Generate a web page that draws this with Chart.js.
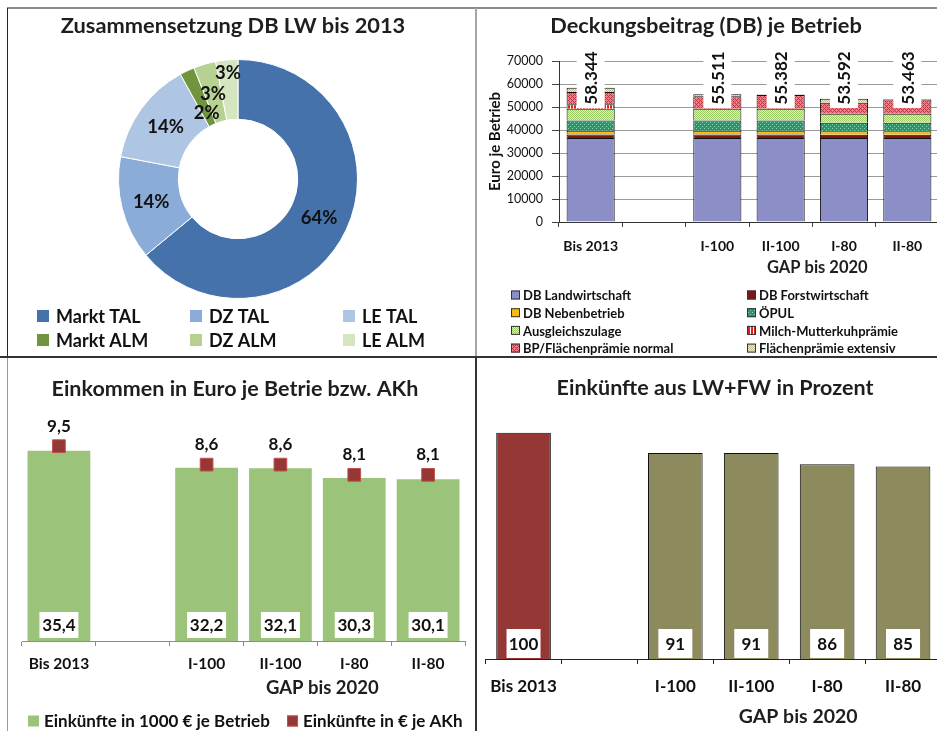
<!DOCTYPE html>
<html>
<head>
<meta charset="utf-8">
<script src="https://cdn.jsdelivr.net/npm/chart.js@4.4.1/dist/chart.umd.min.js"></script>
<style>
  body { margin: 0; background: #fff; width: 937px; height: 731px; position: relative; overflow: hidden; }
  canvas { position: absolute; }
  .ln { position: absolute; }
</style>
</head>
<body>
<div class="ln" style="left:7px;top:7px;width:930px;height:2px;background:#8c8c8c"></div>
<div class="ln" style="left:7px;top:8px;width:1px;height:349px;background:#262626"></div>
<div class="ln" style="left:7px;top:357px;width:1px;height:374px;background:#9a9a9a"></div>
<div class="ln" style="left:475px;top:8px;width:2px;height:349px;background:#a6a6a6"></div>
<div class="ln" style="left:475px;top:357px;width:2px;height:374px;background:#333"></div>
<div class="ln" style="left:0;top:356px;width:937px;height:2px;background:#333"></div>

<canvas id="pieChart" style="left:8px;top:10px" width="467" height="346"></canvas>
<canvas id="dbChart" style="left:478px;top:10px" width="462" height="346"></canvas>
<canvas id="incomeChart" style="left:8px;top:359px" width="467" height="372"></canvas>
<canvas id="percentChart" style="left:478px;top:359px" width="465" height="372"></canvas>

<script>
const FONT = 'Lato, "Open Sans", sans-serif';

// Zusammensetzung DB LW bis 2013
const pieLabels = ["Markt TAL", "DZ TAL", "LE TAL", "Markt ALM", "DZ ALM", "LE ALM"];
const pieShares = [64, 14, 14, 2, 3, 3];

// Deckungsbeitrag (DB) je Betrieb
const gapCategories = ["Bis 2013", "", "I-100", "II-100", "I-80", "II-80"];
const dbNames = ["DB Landwirtschaft", "DB Forstwirtschaft", "DB Nebenbetrieb", "ÖPUL",
  "Ausgleichszulage", "Milch-Mutterkuhprämie", "BP/Flächenprämie normal", "Flächenprämie extensiv"];
const dbLandwirtschaft = [36500, null, 36500, 36500, 36500, 36500];
const dbForstwirtschaft = [1500, null, 1500, 1500, 1400, 1400];
const dbNebenbetrieb = [1700, null, 1700, 1700, 1600, 1600];
const oepul = [4400, null, 4400, 4400, 3600, 3600];
const ausgleichszulage = [5100, null, 5100, 5100, 4000, 4000];
const milchMutterkuh = [2000, null, null, null, null, null];
const bpNormal = [5300, null, 5500, 6000, 4800, 6200];
const flaecheExtensiv = [1844, null, 811, 182, 1692, 163];

// Einkommen in Euro je Betrieb bzw. AKh
const einkuenfteBetrieb = [35.4, null, 32.2, 32.1, 30.3, 30.1];
const einkuenfteAKh = [9.5, null, 8.6, 8.6, 8.1, 8.1];

// Einkünfte aus LW+FW in Prozent
const einkuenfteProzent = [100, null, 91, 91, 86, 85];

Chart.defaults.font.family = FONT;
Chart.defaults.color = '#111';
Chart.defaults.animation = false;
Chart.defaults.plugins.legend.display = false;
Chart.defaults.plugins.tooltip.enabled = false;

function pattern(bg, fg, kind) {
  const c = document.createElement('canvas');
  c.width = kind === 'vstripe' ? 3 : 4;
  c.height = 4;
  const g = c.getContext('2d');
  g.fillStyle = bg;
  g.fillRect(0, 0, c.width, c.height);
  g.fillStyle = fg;
  for (let x = 0; x < c.width; x++) {
    for (let y = 0; y < c.height; y++) {
      let on = false;
      if (kind === 'dots') on = (x === 0 && y === 0) || (x === 2 && y === 2);
      if (kind === 'check') on = (x + y) % 2 === 0;
      if (kind === 'cross') on = (x + y) % 4 === 0 || (x - y + 4) % 4 === 0;
      if (kind === 'vstripe') on = x < 2;
      if (on) g.fillRect(x, y, 1, 1);
    }
  }
  return g.createPattern(c, 'repeat');
}

const pieColors = ['#4672AC', '#8BABD8', '#AEC6E3', '#71953F', '#B7D193', '#D4E5C0'];
const dbFills = [
  '#8C8FC7',
  '#7E1618',
  '#F7BC12',
  pattern('#2A9670', '#8AD3AE', 'dots'),
  pattern('#DDF0BC', '#9ECC66', 'check'),
  pattern('#ffffff', '#E0221E', 'vstripe'),
  pattern('#EC8087', '#BE3444', 'cross'),
  pattern('#F2F0D4', '#BDB98C', 'check')
];

const fmtComma = v => v.toFixed(1).replace('.', ',');
const fmtThousands = v => Math.round(v).toString().replace(/\B(?=(\d{3})+(?!\d))/g, '.');

// titles, group label under the x axis, and a column legend
const panelText = {
  id: 'panelText',
  afterDraw(chart, args, opts) {
    const ctx = chart.ctx;
    ctx.save();
    ctx.fillStyle = '#1e1e1e';
    ctx.textAlign = 'center';
    ctx.textBaseline = 'middle';
    if (opts.title) {
      ctx.font = opts.title.font;
      ctx.fillText(opts.title.text, opts.title.x, opts.title.y);
    }
    if (opts.group) {
      const x = chart.scales.x;
      const cx = (x.getPixelForValue(opts.group.from) + x.getPixelForValue(opts.group.to)) / 2 + (opts.group.dx || 0);
      ctx.font = opts.group.font;
      ctx.fillText(opts.group.text, cx, opts.group.y);
    }
    if (opts.legend) {
      const lg = opts.legend;
      lg.items.forEach((it, i) => {
        const col = i % lg.cols, row = Math.floor(i / lg.cols);
        const bx = lg.x + col * lg.colW;
        const cy = lg.y + row * lg.rowH;
        ctx.fillStyle = it.fill;
        ctx.fillRect(bx, cy - lg.box / 2, lg.box, lg.box);
        if (it.stroke) {
          ctx.strokeStyle = it.stroke;
          ctx.lineWidth = 1;
          ctx.strokeRect(bx + 0.5, cy - lg.box / 2 + 0.5, lg.box - 1, lg.box - 1);
        }
        ctx.fillStyle = '#111';
        ctx.textAlign = 'left';
        ctx.font = lg.font;
        ctx.fillText(it.text, bx + lg.textDx, cy + 1);
      });
    }
    ctx.restore();
  }
};

// percentages inside the ring
const pieLabelRadius = [1, 1, 1, 0.82, 1, 1.2];
const pieLabelPlugin = {
  id: 'pieLabels',
  afterDatasetsDraw(chart) {
    const ctx = chart.ctx;
    const meta = chart.getDatasetMeta(0);
    ctx.save();
    ctx.font = 'bold 18.5px ' + FONT;
    ctx.fillStyle = '#111';
    ctx.textAlign = 'center';
    ctx.textBaseline = 'middle';
    meta.data.forEach((arc, i) => {
      const mid = (arc.startAngle + arc.endAngle) / 2;
      const r = (arc.innerRadius + arc.outerRadius) / 2 * pieLabelRadius[i];
      ctx.fillText(pieShares[i] + '%', arc.x + Math.cos(mid) * r, arc.y + Math.sin(mid) * r + 1);
    });
    ctx.restore();
  }
};

// rotated totals on top of the stacks
const dbSeries = [dbLandwirtschaft, dbForstwirtschaft, dbNebenbetrieb, oepul, ausgleichszulage, milchMutterkuh, bpNormal, flaecheExtensiv];
const dbTotals = gapCategories.map((c, i) => dbSeries.reduce((s, arr) => s + (arr[i] || 0), 0));
const totalLabels = {
  id: 'totalLabels',
  afterDatasetsDraw(chart) {
    const {ctx, chartArea} = chart;
    const x = chart.scales.x;
    dbTotals.forEach((t, i) => {
      if (!t) return;
      const cx = x.getPixelForValue(i), cy = chartArea.top + 17;
      ctx.save();
      ctx.fillStyle = '#fff';
      ctx.fillRect(cx - 14, cy - 30, 28, 60);
      ctx.translate(cx, cy);
      ctx.rotate(-Math.PI / 2);
      ctx.font = 'bold 17px ' + FONT;
      ctx.fillStyle = '#111';
      ctx.textAlign = 'center';
      ctx.textBaseline = 'middle';
      ctx.fillText(fmtThousands(t), 0, 1);
      ctx.restore();
    });
  }
};

// white value boxes at the foot of bars, values above markers
const barLabels = {
  id: 'barLabels',
  afterDatasetsDraw(chart, args, opts) {
    const ctx = chart.ctx;
    ctx.save();
    ctx.font = 'bold 17px ' + FONT;
    ctx.textAlign = 'center';
    ctx.textBaseline = 'middle';
    const bars = chart.getDatasetMeta(opts.barDataset);
    const barValues = chart.data.datasets[opts.barDataset].data;
    bars.data.forEach((bar, i) => {
      if (barValues[i] == null) return;
      const bottom = bar.base - opts.gap;
      ctx.fillStyle = '#fff';
      ctx.fillRect(bar.x - opts.w / 2, bottom - opts.h, opts.w, opts.h);
      ctx.fillStyle = '#111';
      ctx.fillText(opts.format(barValues[i]), bar.x, bottom - opts.h / 2 + 1);
    });
    if (opts.pointDataset != null) {
      const pts = chart.getDatasetMeta(opts.pointDataset);
      const vals = chart.data.datasets[opts.pointDataset].data;
      pts.data.forEach((p, i) => {
        if (vals[i] == null) return;
        ctx.fillStyle = '#111';
        ctx.fillText(fmtComma(vals[i]), p.x, p.y - 20);
      });
    }
    ctx.restore();
  }
};

// --- Pie ---
new Chart(document.getElementById('pieChart'), {
  type: 'doughnut',
  data: {
    labels: pieLabels,
    datasets: [{ data: pieShares, backgroundColor: pieColors, borderColor: '#fff', borderWidth: 1 }]
  },
  options: {
    responsive: false,
    cutout: '50%',
    layout: { padding: { left: 110, top: 49, right: 117, bottom: 57 } },
    plugins: {
      panelText: {
        title: { text: 'Zusammensetzung DB LW bis 2013', x: 225, y: 16, font: 'bold 21.8px ' + FONT },
        legend: {
          items: pieLabels.map((l, i) => ({ text: l, fill: pieColors[i] })),
          cols: 3, x: 29, colW: 153, y: 306, rowH: 24, box: 12, textDx: 19,
          font: 'bold 18px ' + FONT
        }
      }
    }
  },
  plugins: [pieLabelPlugin, panelText]
});

// --- Stacked DB ---
new Chart(document.getElementById('dbChart'), {
  type: 'bar',
  data: {
    labels: gapCategories,
    datasets: dbSeries.map((arr, i) => ({
      label: dbNames[i], data: arr, backgroundColor: dbFills[i],
      borderColor: '#111', borderWidth: 1, barPercentage: 0.76, categoryPercentage: 1
    }))
  },
  options: {
    responsive: false,
    layout: { padding: { left: 0, top: 51, right: 1, bottom: 104 } },
    scales: {
      x: {
        stacked: true,
        grid: { display: true, drawOnChartArea: false, tickLength: 5, tickColor: '#444' },
        border: { color: '#333' },
        ticks: { font: { weight: 'bold', size: 14 }, padding: 11, maxRotation: 0, autoSkip: false, color: '#111' },
        afterFit: s => { s.height = 30; }
      },
      y: {
        stacked: true, min: 0, max: 70000,
        ticks: { stepSize: 10000, font: { size: 12.5 }, padding: 9, color: '#111', callback: v => String(v) },
        grid: { color: '#9a9a9a', tickLength: 7, tickColor: '#444' },
        border: { color: '#333' },
        title: { display: true, text: 'Euro je Betrieb', font: { weight: 'bold', size: 15 }, padding: { top: 8 }, color: '#111' },
        afterFit: s => { s.width = 81; }
      }
    },
    plugins: {
      panelText: {
        title: { text: 'Deckungsbeitrag (DB) je Betrieb', x: 228, y: 16, font: 'bold 21.8px ' + FONT },
        group: { text: 'GAP bis 2020', from: 2, to: 5, dx: 5, y: 258, font: 'bold 16.5px ' + FONT },
        legend: {
          items: dbNames.map((n, i) => ({ text: n, fill: dbFills[i], stroke: '#333' })),
          cols: 2, x: 33, colW: 236, y: 285, rowH: 17.7, box: 9, textDx: 12,
          font: 'bold 13px ' + FONT
        }
      }
    }
  },
  plugins: [totalLabels, panelText]
});

// --- Einkommen ---
new Chart(document.getElementById('incomeChart'), {
  type: 'bar',
  data: {
    labels: gapCategories,
    datasets: [
      {
        type: 'line', label: 'Einkünfte in € je AKh', data: einkuenfteAKh, yAxisID: 'y1',
        showLine: false, pointStyle: 'rect', pointRadius: 9,
        pointBackgroundColor: '#953735', pointBorderColor: '#C0504D', pointBorderWidth: 1, order: 0
      },
      {
        type: 'bar', label: 'Einkünfte in 1000 € je Betrieb', data: einkuenfteBetrieb, yAxisID: 'y',
        backgroundColor: '#9BC37A', barPercentage: 0.85, categoryPercentage: 1, order: 1
      }
    ]
  },
  options: {
    responsive: false,
    layout: { padding: { left: 14, top: 40, right: 9, bottom: 60 } },
    scales: {
      x: {
        grid: { display: true, drawOnChartArea: false, tickLength: 5, tickColor: '#8c8c8c' },
        border: { color: '#8c8c8c' },
        ticks: { font: { weight: 'bold', size: 15.5 }, padding: 9, maxRotation: 0, autoSkip: false, color: '#111' },
        afterFit: s => { s.height = 30; }
      },
      y: { display: false, min: 0, max: 45 },
      y1: { display: false, min: 0, max: 11.8 }
    },
    plugins: {
      barLabels: { barDataset: 1, pointDataset: 0, w: 39, h: 26, gap: 3, format: fmtComma },
      panelText: {
        title: { text: 'Einkommen in Euro je Betrie bzw. AKh', x: 227, y: 30, font: 'bold 21.5px ' + FONT },
        group: { text: 'GAP bis 2020', from: 2, to: 5, dx: 5, y: 329, font: 'bold 18.5px ' + FONT },
        legend: {
          items: [
            { text: 'Einkünfte in 1000 € je Betrieb', fill: '#9BC37A' },
            { text: 'Einkünfte in € je AKh', fill: '#953735', stroke: '#C0504D' }
          ],
          cols: 2, x: 20, colW: 259, y: 362, rowH: 20, box: 11, textDx: 16,
          font: 'bold 17px ' + FONT
        }
      }
    }
  },
  plugins: [barLabels, panelText]
});

// --- Prozent ---
const percentColors = ['#953735', '#8D8A5D', '#8D8A5D', '#8D8A5D', '#8D8A5D', '#8D8A5D'];
new Chart(document.getElementById('percentChart'), {
  type: 'bar',
  data: {
    labels: gapCategories,
    datasets: [{
      label: 'Einkünfte aus LW+FW in Prozent', data: einkuenfteProzent,
      backgroundColor: percentColors, borderColor: '#111', borderWidth: 1,
      barPercentage: 0.72, categoryPercentage: 1
    }]
  },
  options: {
    responsive: false,
    layout: { padding: { left: 4, top: 51, right: 2, bottom: 32 } },
    scales: {
      x: {
        grid: { display: true, drawOnChartArea: false, tickLength: 5, tickColor: '#222' },
        border: { color: '#222' },
        ticks: { font: { weight: 'bold', size: 17 }, padding: 12, maxRotation: 0, autoSkip: false, color: '#111' },
        afterFit: s => { s.height = 40; }
      },
      y: { display: false, min: 0, max: 110 }
    },
    plugins: {
      barLabels: { barDataset: 0, w: 34, h: 29, gap: 1, format: v => String(v) },
      panelText: {
        title: { text: 'Einkünfte aus LW+FW in Prozent', x: 237, y: 29, font: 'bold 21.5px ' + FONT },
        group: { text: 'GAP bis 2020', from: 2, to: 5, dx: 9, y: 358, font: 'bold 19.5px ' + FONT }
      }
    }
  },
  plugins: [barLabels, panelText]
});
</script>
</body>
</html>
